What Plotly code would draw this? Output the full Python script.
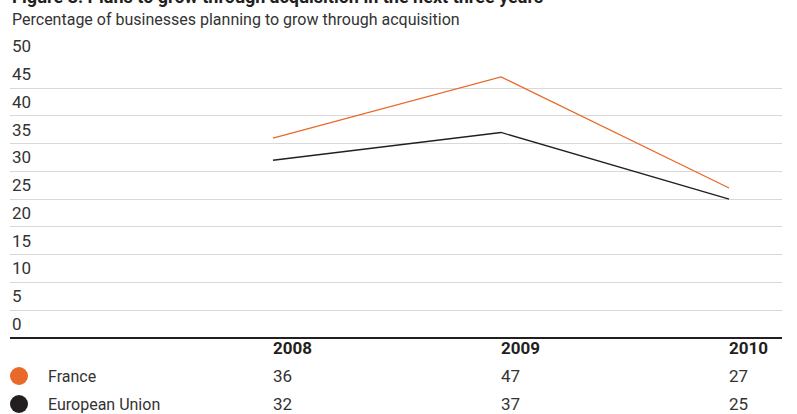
import plotly.graph_objects as go

years = [2008, 2009, 2010]
series_names = ["France", "European Union"]
france = [36, 47, 27]
eu = [32, 37, 25]
series_values = [france, eu]
series_colors = ["#E8692A", "#231F20"]
y_ticks = [0, 5, 10, 15, 20, 25, 30, 35, 40, 45, 50]

title = "Figure 3: Plans to grow through acquisition in the next three years"
subtitle = "Percentage of businesses planning to grow through acquisition"

FONT = "Roboto, Liberation Sans, Arial"
W, H = 797, 414
ML, MR, MT, MB = 10, 15, 60, 76
PH = H - MT - MB
PW = W - ML - MR


def py(px):
    """pixel y -> paper y"""
    return (H - MB - px) / PH


def pxx(px):
    """pixel x -> paper x"""
    return (px - ML) / PW


fig = go.Figure()
for name, vals, col in zip(series_names, series_values, series_colors):
    fig.add_trace(go.Scatter(x=years, y=vals, mode="lines", name=name,
                             line=dict(color=col, width=1.3),
                             hoverinfo="x+y+name"))

annotations = []
# y tick labels above gridlines
for t in y_ticks:
    annotations.append(dict(x=0, xref="paper", y=t, yref="y", text=str(t),
                            showarrow=False, xanchor="left", yanchor="bottom",
                            yshift=2, font=dict(family=FONT, size=17, color="#333333")))
# title / subtitle
annotations.append(dict(x=0, xref="paper", y=py(-4), yref="paper", text="<b>" + title + "</b>",
                        showarrow=False, xanchor="left", yanchor="middle",
                        font=dict(family=FONT, size=18, color="#231F20")))
annotations.append(dict(x=0, xref="paper", y=py(19), yref="paper", text=subtitle,
                        showarrow=False, xanchor="left", yanchor="middle",
                        font=dict(family=FONT, size=16, color="#333333")))
# table header
for yr in years:
    annotations.append(dict(x=yr, xref="x", y=py(348), yref="paper", text="<b>%d</b>" % yr,
                            showarrow=False, xanchor="left", yanchor="middle", xshift=-2,
                            font=dict(family=FONT, size=17, color="#231F20")))
shapes = []
row_y = [376, 404]
for name, vals, col, ry in zip(series_names, series_values, series_colors, row_y):
    annotations.append(dict(x=pxx(46), xref="paper", y=py(ry), yref="paper", text=name,
                            showarrow=False, xanchor="left", yanchor="middle",
                            font=dict(family=FONT, size=16, color="#333333")))
    for yr, v in zip(years, vals):
        annotations.append(dict(x=yr, xref="x", y=py(ry), yref="paper", text=str(v),
                                showarrow=False, xanchor="left", yanchor="middle", xshift=-2,
                                font=dict(family=FONT, size=17, color="#333333")))
    shapes.append(dict(type="circle", xref="paper", yref="paper",
                       xsizemode="pixel", ysizemode="pixel",
                       xanchor=pxx(19), yanchor=py(ry),
                       x0=-9, x1=9, y0=-9, y1=9,
                       fillcolor=col, line=dict(width=0)))

fig.update_layout(
    width=W, height=H,
    margin=dict(l=ML, r=MR, t=MT, b=MB),
    paper_bgcolor="white", plot_bgcolor="white",
    showlegend=False,
    xaxis=dict(range=[2006.847, 2010.232], showgrid=False, zeroline=False,
               showticklabels=False, showline=False, fixedrange=True),
    yaxis=dict(range=[0, 50.05], tickvals=y_ticks, showticklabels=False,
               showgrid=True, gridcolor="#D9D9D9", gridwidth=1,
               zeroline=True, zerolinecolor="#231F20", zerolinewidth=1.5,
               showline=False, fixedrange=True),
    annotations=annotations,
    shapes=shapes,
)

fig.write_html("out.html")
